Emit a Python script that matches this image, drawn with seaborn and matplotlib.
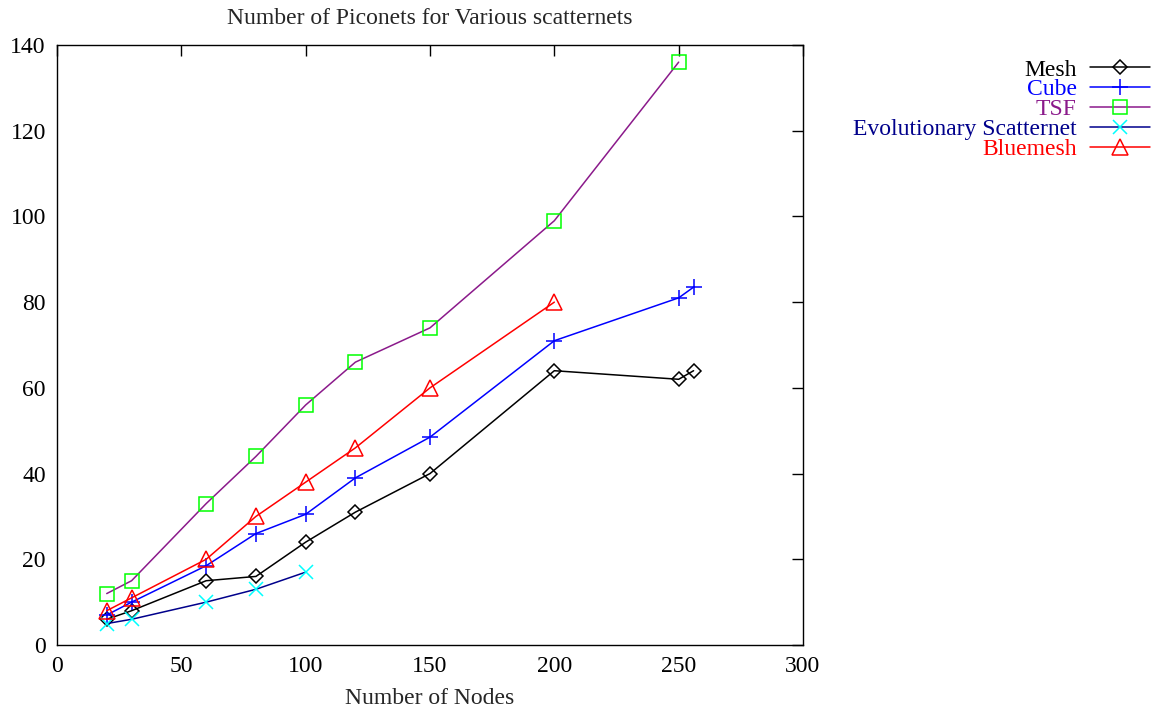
import matplotlib
matplotlib.use("Agg")
import matplotlib.pyplot as plt
from matplotlib.lines import Line2D
import seaborn as sns
import pandas as pd

# Number of nodes sampled for each scatternet scheme
mesh_nodes = [20, 30, 60, 80, 100, 120, 150, 200, 250, 256]
mesh_piconets = [6, 8, 15, 16, 24, 31, 40, 64, 62, 64]

cube_nodes = [20, 30, 60, 80, 100, 120, 150, 200, 250, 256]
cube_piconets = [7, 10, 18.5, 26, 30.5, 39, 48.5, 71, 81, 83.5]

tsf_nodes = [20, 30, 60, 80, 100, 120, 150, 200, 250]
tsf_piconets = [12, 15, 33, 44, 56, 66, 74, 99, 136]

evo_nodes = [20, 30, 60, 80, 100]
evo_piconets = [5, 6, 10, 13, 17]

bluemesh_nodes = [20, 30, 60, 80, 100, 120, 150, 200]
bluemesh_piconets = [8, 11, 20, 30, 38, 46, 60, 80]

series_names = ["Mesh", "Cube", "TSF", "Evolutionary Scatternet", "Bluemesh"]

frames = []
for name, xs, ys in zip(
    series_names,
    [mesh_nodes, cube_nodes, tsf_nodes, evo_nodes, bluemesh_nodes],
    [mesh_piconets, cube_piconets, tsf_piconets, evo_piconets, bluemesh_piconets],
):
    frames.append(pd.DataFrame({"nodes": xs, "piconets": ys, "scheme": name}))
data = pd.concat(frames, ignore_index=True)

# gnuplot-like styling: line colour and point colour differ per series
styles = {
    "Mesh": dict(line="#000000", point="#000000", marker="D", ms=7),
    "Cube": dict(line="#0000ff", point="#0000ff", marker="+", ms=11),
    "TSF": dict(line="#8b1a8b", point="#00ff00", marker="s", ms=10),
    "Evolutionary Scatternet": dict(line="#00008b", point="#00ffff", marker="x", ms=10),
    "Bluemesh": dict(line="#ff0000", point="#ff0000", marker="^", ms=11),
}

sns.set_theme(style="white")
plt.rcParams["font.family"] = ["Liberation Serif", "DejaVu Serif"]
plt.rcParams["font.size"] = 17

fig = plt.figure(figsize=(11.56, 7.11), dpi=100)
ax = fig.add_axes([57 / 1156, 66 / 711, (803 - 57) / 1156, (645 - 45) / 711])

for name in series_names:
    st = styles[name]
    sub = data[data["scheme"] == name]
    sns.lineplot(
        data=sub, x="nodes", y="piconets", ax=ax,
        color=st["line"], linewidth=1.1,
        marker=st["marker"], markersize=st["ms"],
        markerfacecolor="none", markeredgecolor=st["point"],
        markeredgewidth=1.1, legend=False, sort=False,
    )

ax.set_xlim(0, 300)
ax.set_ylim(0, 140)
ax.set_xticks(range(0, 301, 50))
ax.set_yticks(range(0, 141, 20))
ax.tick_params(axis="both", which="major", direction="in", length=8,
               width=1, top=True, right=True, labelsize=17, pad=8, colors="#000000")
for sp in ax.spines.values():
    sp.set_color("#000000")
    sp.set_linewidth(1)

ax.set_xlabel("Number of Nodes", fontsize=17, labelpad=8)
ax.set_ylabel("")
ax.set_title("Number of Piconets for Various scatternets", fontsize=17, pad=15)

handles = [
    Line2D([], [], color=styles[n]["line"], linewidth=1.1, marker=styles[n]["marker"],
           markersize=styles[n]["ms"], markerfacecolor="none",
           markeredgecolor=styles[n]["point"], markeredgewidth=1.1)
    for n in series_names
]
fig.legend(
    handles, series_names, loc="upper right",
    bbox_to_anchor=(1150 / 1156, 1 - 59 / 711),
    frameon=False, markerfirst=False, handlelength=2.55, handletextpad=0.55,
    labelspacing=-0.07, borderpad=0, borderaxespad=0, fontsize=17,
    labelcolor=[styles[n]["line"] for n in series_names],
)

fig.savefig("out.png", dpi=100)
